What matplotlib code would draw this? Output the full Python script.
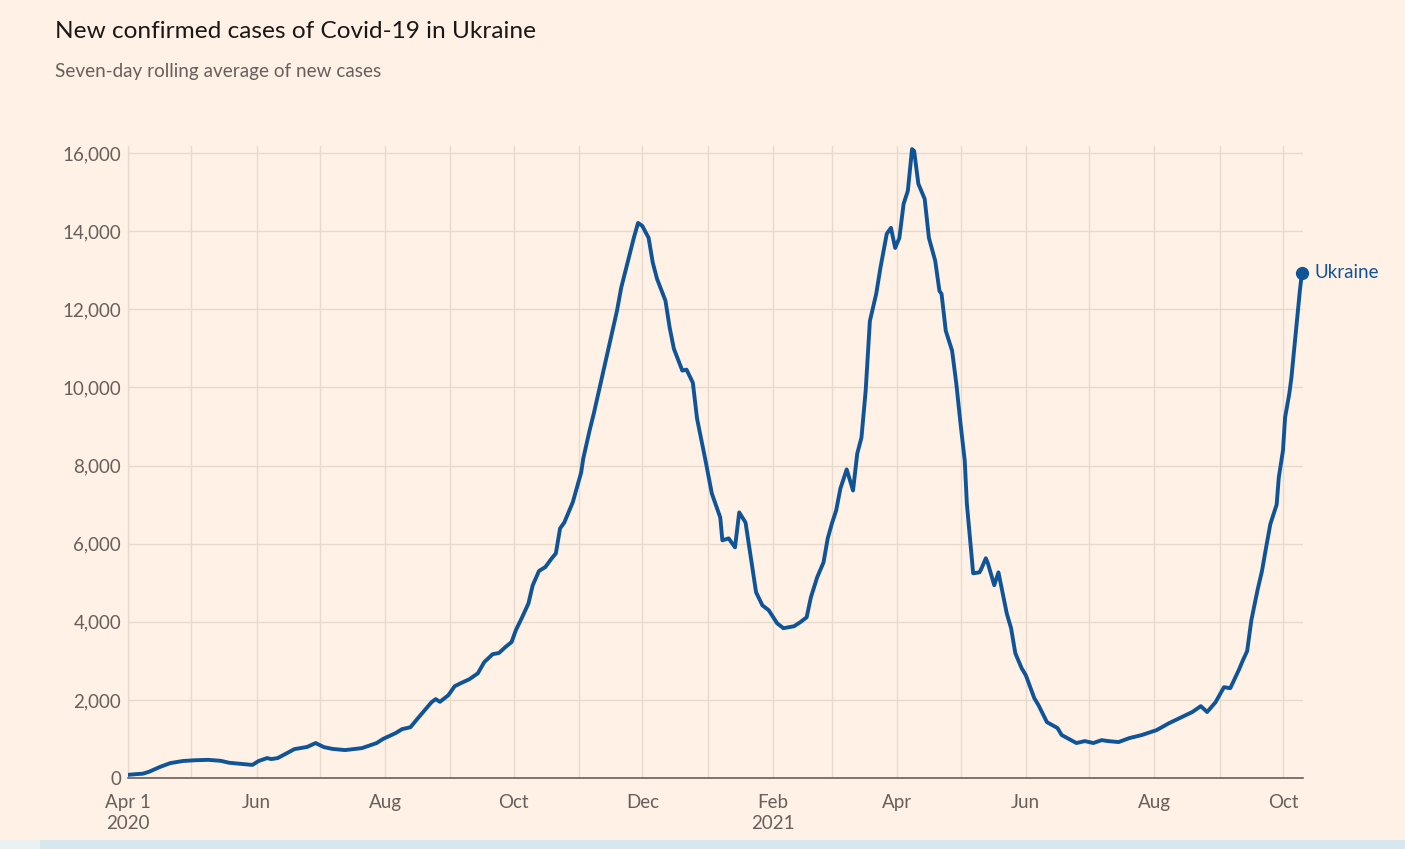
import matplotlib
matplotlib.use("Agg")
import matplotlib.pyplot as plt
import matplotlib.dates as mdates
import pandas as pd
from matplotlib.patches import Rectangle

# seven-day rolling average of new cases
dates = [
    "2020-04-01", "2020-04-05", "2020-04-08", "2020-04-11", "2020-04-16", "2020-04-21",
    "2020-04-27", "2020-05-03", "2020-05-09", "2020-05-15", "2020-05-19", "2020-05-25",
    "2020-05-30", "2020-06-02", "2020-06-06", "2020-06-08", "2020-06-11", "2020-06-19",
    "2020-06-25", "2020-06-29", "2020-07-03", "2020-07-07", "2020-07-13", "2020-07-21",
    "2020-07-28", "2020-07-31", "2020-08-06", "2020-08-09", "2020-08-13", "2020-08-17",
    "2020-08-23", "2020-08-25", "2020-08-27", "2020-08-31", "2020-09-03", "2020-09-06",
    "2020-09-10", "2020-09-14", "2020-09-17", "2020-09-21", "2020-09-24", "2020-09-27",
    "2020-09-30", "2020-10-02", "2020-10-05", "2020-10-08", "2020-10-10", "2020-10-13",
    "2020-10-16", "2020-10-19", "2020-10-21", "2020-10-23", "2020-10-25", "2020-10-29",
    "2020-11-02", "2020-11-03", "2020-11-06", "2020-11-08", "2020-11-11", "2020-11-15",
    "2020-11-19", "2020-11-21", "2020-11-24", "2020-11-27", "2020-11-29", "2020-12-01",
    "2020-12-04", "2020-12-06", "2020-12-08", "2020-12-12", "2020-12-14", "2020-12-16",
    "2020-12-20", "2020-12-22", "2020-12-25", "2020-12-27", "2020-12-31", "2021-01-03",
    "2021-01-07", "2021-01-08", "2021-01-11", "2021-01-14", "2021-01-16", "2021-01-19",
    "2021-01-24", "2021-01-27", "2021-01-30", "2021-02-03", "2021-02-06", "2021-02-11",
    "2021-02-14", "2021-02-17", "2021-02-19", "2021-02-22", "2021-02-25", "2021-02-27",
    "2021-03-01", "2021-03-03", "2021-03-05", "2021-03-08", "2021-03-11", "2021-03-13",
    "2021-03-15", "2021-03-17", "2021-03-19", "2021-03-22", "2021-03-24", "2021-03-27",
    "2021-03-29", "2021-03-31", "2021-04-02", "2021-04-04", "2021-04-06", "2021-04-08",
    "2021-04-09", "2021-04-11", "2021-04-14", "2021-04-16", "2021-04-19", "2021-04-21",
    "2021-04-22", "2021-04-24", "2021-04-27", "2021-04-29", "2021-05-01", "2021-05-03",
    "2021-05-04", "2021-05-07", "2021-05-10", "2021-05-11", "2021-05-13", "2021-05-14",
    "2021-05-17", "2021-05-19", "2021-05-23", "2021-05-25", "2021-05-27", "2021-05-30",
    "2021-06-01", "2021-06-05", "2021-06-07", "2021-06-11", "2021-06-16", "2021-06-18",
    "2021-06-25", "2021-06-29", "2021-07-03", "2021-07-07", "2021-07-10", "2021-07-15",
    "2021-07-20", "2021-07-26", "2021-08-02", "2021-08-08", "2021-08-13", "2021-08-19",
    "2021-08-23", "2021-08-26", "2021-08-30", "2021-09-03", "2021-09-06", "2021-09-10",
    "2021-09-12", "2021-09-14", "2021-09-16", "2021-09-19", "2021-09-21", "2021-09-23",
    "2021-09-25", "2021-09-28", "2021-09-29", "2021-10-01", "2021-10-02", "2021-10-04",
    "2021-10-05", "2021-10-07", "2021-10-09", "2021-10-10",
]
cases = [
    80, 100, 110, 160, 280, 380,
    435, 455, 465, 440, 390, 360,
    335, 435, 510, 485, 510, 740,
    795, 895, 790, 745, 715, 765,
    895, 1000, 1150, 1250, 1300, 1560,
    1940, 2020, 1950, 2120, 2350, 2430,
    2530, 2680, 2965, 3170, 3200, 3350,
    3480, 3780, 4115, 4470, 4930, 5300,
    5400, 5620, 5750, 6390, 6540, 7055,
    7820, 8180, 8895, 9330, 10045, 10990,
    11960, 12550, 13190, 13830, 14210, 14135,
    13830, 13190, 12780, 12220, 11530, 10990,
    10430, 10455, 10120, 9200, 8130, 7285,
    6670, 6085, 6135, 5905, 6800, 6540,
    4755, 4420, 4295, 3960, 3835, 3885,
    3990, 4115, 4625, 5140, 5520, 6135,
    6520, 6850, 7410, 7900, 7360, 8305,
    8715, 9915, 11700, 12395, 13060, 13930,
    14085, 13570, 13830, 14700, 15030, 16100,
    16050, 15210, 14825, 13830, 13240, 12470,
    12395, 11450, 10940, 10100, 9075, 8130,
    7030, 5240, 5265, 5370, 5625, 5495,
    4935, 5265, 4200, 3835, 3195, 2810,
    2630, 2045, 1865, 1430, 1280, 1100,
    895, 945, 895, 970, 945, 920,
    1020, 1100, 1225, 1405, 1535, 1690,
    1840, 1690, 1940, 2325, 2300, 2760,
    3015, 3250, 4040, 4830, 5290, 5905,
    6500, 7000, 7690, 8385, 9230, 9840,
    10250, 11370, 12470, 12935,
]

tick_dates = ["2020-04-01", "2020-06-01", "2020-08-01", "2020-10-01", "2020-12-01",
              "2021-02-01", "2021-04-01", "2021-06-01", "2021-08-01", "2021-10-01"]
tick_labels = ["Apr 1\n2020", "Jun", "Aug", "Oct", "Dec",
               "Feb\n2021", "Apr", "Jun", "Aug", "Oct"]
y_ticks = [0, 2000, 4000, 6000, 8000, 10000, 12000, 14000, 16000]

BG = "#fff1e5"
GRID = "#e7d9cc"
BLUE = "#0f5499"
GREY = "#66605c"

plt.rcParams["font.family"] = ["Lato", "DejaVu Sans"]

W, H = 1405, 849
fig = plt.figure(figsize=(W / 100, H / 100), dpi=100, facecolor=BG)
ax = fig.add_axes([128 / W, 1 - 778 / H, (1303 - 128) / W, (778 - 146) / H])
ax.set_facecolor(BG)

x = pd.to_datetime(dates)
ax.plot(x, cases, color=BLUE, lw=2.8, solid_joinstyle="round", zorder=3)
ax.plot(x[-1], cases[-1], "o", color=BLUE, ms=8.5, zorder=4, clip_on=False)
ax.annotate("Ukraine", (x[-1], cases[-1]), xytext=(9, 0), textcoords="offset points",
            va="center", ha="left", color=BLUE, fontsize=13.5, annotation_clip=False)

ax.set_xlim(pd.Timestamp("2020-04-01"), pd.Timestamp("2021-10-10 12:00"))
ax.set_ylim(0, 16180)

ax.set_xticks(pd.to_datetime(tick_dates))
ax.set_xticklabels(tick_labels, linespacing=1.3)
ax.xaxis.set_minor_locator(mdates.MonthLocator())
ax.set_yticks(y_ticks)
ax.set_yticklabels([f"{v:,}" for v in y_ticks])

ax.tick_params(axis="both", which="both", length=0, colors=GREY, labelsize=13.5)
ax.tick_params(axis="x", pad=11.5)
ax.tick_params(axis="y", pad=5)
ax.grid(True, which="both", axis="x", color=GRID, lw=1)
ax.grid(True, which="major", axis="y", color=GRID, lw=1)
ax.set_axisbelow(True)

for s in ["top", "right"]:
    ax.spines[s].set_visible(False)
ax.spines["left"].set_color(GRID)
ax.spines["left"].set_linewidth(1)
ax.spines["bottom"].set_color(GREY)
ax.spines["bottom"].set_linewidth(1.2)

fig.text(55 / W, 1 - 32 / H, "New confirmed cases of Covid-19 in Ukraine",
         fontsize=17.6, color="#1a1817", va="center", ha="left")
fig.text(55 / W, 1 - 71 / H, "Seven-day rolling average of new cases",
         fontsize=13.6, color=GREY, va="center", ha="left")

# light blue strip along the bottom edge of the screenshot
fig.patches.append(Rectangle((0, 0), 40 / W, 9 / H, transform=fig.transFigure,
                             facecolor="#e9f1f3", edgecolor="none"))
fig.patches.append(Rectangle((40 / W, 0), 1 - 40 / W, 9 / H, transform=fig.transFigure,
                             facecolor="#d6e7ed", edgecolor="none"))

fig.savefig("out.png", dpi=100, facecolor=BG)
